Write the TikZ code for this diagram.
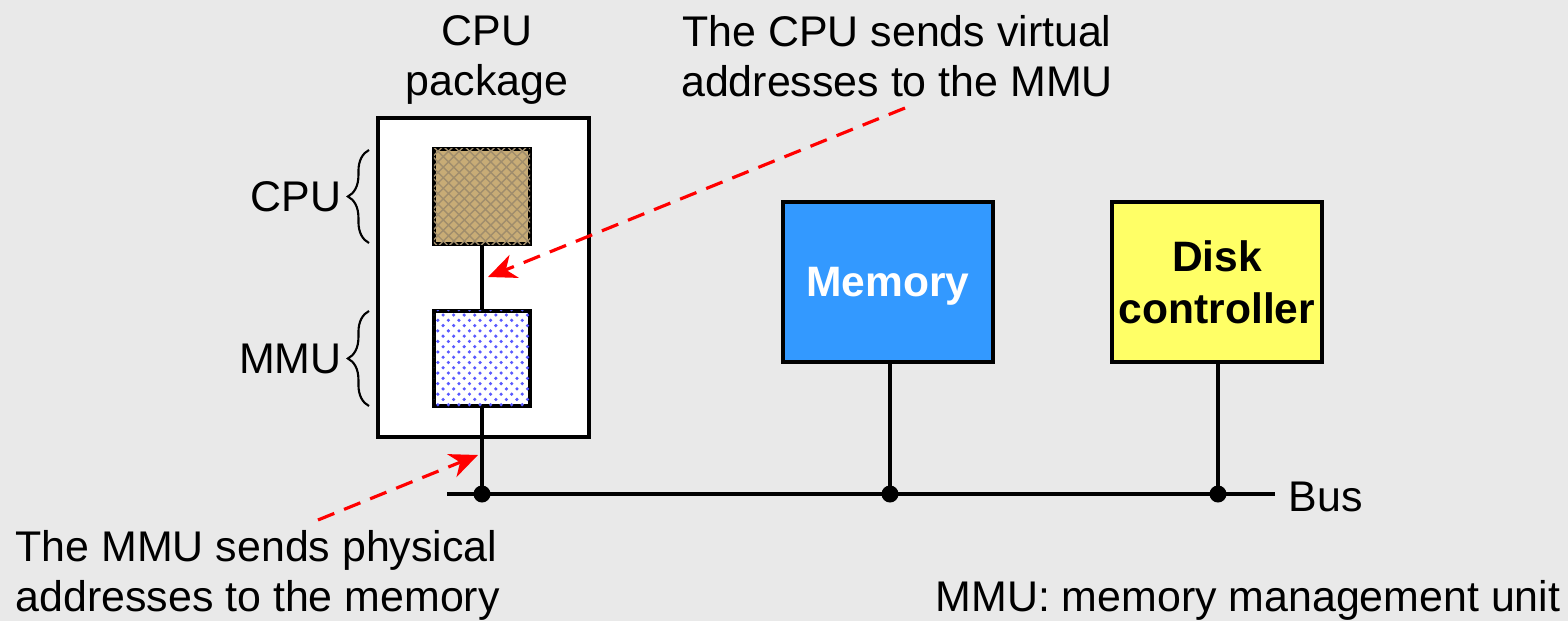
\documentclass[tikz,border=0pt]{standalone}
\usepackage{fontspec}
\setmainfont{Liberation Sans}
\usetikzlibrary{arrows.meta,patterns,decorations.pathreplacing}
\definecolor{bggray}{RGB}{233,233,233}
\definecolor{memblue}{RGB}{51,153,255}
\definecolor{diskyellow}{RGB}{255,255,102}
\definecolor{burlap}{RGB}{200,172,118}
\definecolor{burlapdark}{RGB}{120,92,45}
\begin{document}
\begin{tikzpicture}[x=0.01cm, y=-0.01cm]
        % Define styles for nodes and arrows
        \tikzstyle{label} = [font=\fontsize{12.2pt}{14.2pt}\selectfont, text centered, inner sep=0pt]
        \tikzstyle{chip} = [rectangle, draw=black, line width=1.1pt, minimum width=0.96cm, minimum height=0.95cm, inner sep=0pt]
        \tikzstyle{device} = [rectangle, draw=black, line width=1.1pt, minimum width=2.1cm, minimum height=1.6cm, inner sep=0pt, align=center, font=\fontsize{12.1pt}{14.8pt}\selectfont\bfseries]
        \tikzstyle{bus} = [line width=1.1pt]
        \tikzstyle{note} = [red, line width=0.9pt, dash pattern=on 5pt off 3pt, -{Stealth[length=8pt,width=7pt,inset=2.5pt]}]
        \tikzstyle{tap} = [fill=black, draw=none, circle, minimum size=0.17cm, inner sep=0pt]

        \useasboundingbox[fill=bggray] (0,0) rectangle (1568,621);

        % CPU package
        \node (package) [draw=black, line width=1pt, fill=white, minimum width=2.11cm, minimum height=3.19cm] at (483.5,277.5) {};
        \node (cpu) [chip, fill=burlap, postaction={pattern=crosshatch, pattern color=burlapdark!70}] at (482,196.5) {};
        \node (mmu) [chip, fill=white, postaction={pattern=crosshatch dots, pattern color=blue!65}] at (482,358.5) {};
        \node (pkgtext) [label, align=center] at (487,60) {CPU\\package};

        % Devices on the bus
        \node (memory) [device, fill=memblue, text=white, text depth=0pt] at (888,282) {Memory};
        \node (disk) [device, fill=diskyellow] at (1217,282) {Disk\\controller};

        % Bus and taps
        \node (tapcpu) [tap] at (482,494) {};
        \node (tapmem) [tap] at (890,494) {};
        \node (tapdisk) [tap] at (1218,494) {};
        \coordinate (busleft) at (447,494);
        \coordinate (busright) at (1275,494);
        \node (bustext) [label, anchor=west] at (1288,497) {Bus};
        \draw [bus] (busleft) -- (busright);
        \draw [bus] (cpu.south) -- (mmu.north);
        \draw [bus] (mmu.south) -- (tapcpu.center);
        \draw [bus] (memory.south -| tapmem) -- (tapmem.center);
        \draw [bus] (disk.south -| tapdisk) -- (tapdisk.center);

        % Braces
        \draw [decorate, decoration={brace, amplitude=6pt}, line width=0.6pt] (369,243) -- (369,150) node (cputext) [label, midway, anchor=east, xshift=-7.5pt] {CPU};
        \draw [decorate, decoration={brace, amplitude=6pt}, line width=0.6pt] (369,406) -- (369,311) node (mmutext) [label, midway, anchor=east, xshift=-7.5pt] {MMU};

        % Notes
        \node (virtual) [label, align=center] at (897,56) {The CPU sends virtual\\addresses to the MMU};
        \node (physical) [label, align=left, anchor=west] at (15,575) {The MMU sends physical\\addresses to the memory};
        \node (legend) [label, anchor=west] at (935,600) {MMU: memory management unit};

        % Arrows
        \coordinate (vtail) at (905,108);
        \coordinate (vhead) at (488,277);
        \coordinate (ptail) at (318,520);
        \coordinate (phead) at (478,455);
        \draw [note] (vtail) -- (vhead);
        \draw [note] (ptail) -- (phead);
\end{tikzpicture}
\end{document}
